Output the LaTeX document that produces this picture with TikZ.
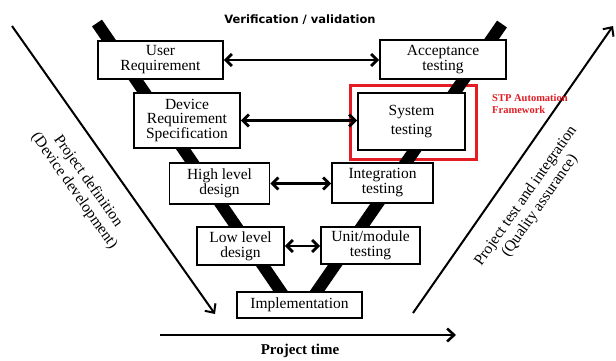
\documentclass[tikz,border=0pt]{standalone}
\usepackage{fontspec}
\setmainfont{Liberation Serif}
\newfontfamily\vfont{DejaVu Sans}
\usetikzlibrary{arrows.meta}
\definecolor{stpred}{RGB}{228,28,36}
\begin{document}
\begin{tikzpicture}[x=1pt,y=-1pt,
  box/.style={draw,line width=1.8pt,fill=white,inner sep=0pt,align=center,
    font=\fontsize{15.5}{15}\selectfont},
  dbl/.style={line width=2.8pt,{Straight Barb[length=6pt,width=12pt]}-{Straight Barb[length=6pt,width=12pt]}},
  longarr/.style={line width=2pt,-{Straight Barb[length=7pt,width=13pt]}},
  band/.style={line width=12pt},
  rottext/.style={align=center,font=\fontsize{15.5}{17}\selectfont}
]
\useasboundingbox (0,0) rectangle (616,360);

% red framework box
\node[draw=stpred,line width=3pt,minimum width=126pt,minimum height=74pt,inner sep=0pt] (fw) at (413,122) {};

% V bands
\coordinate (lb1) at (97,23);
\coordinate (lb2) at (290,305);
\coordinate (rb1) at (502,24);
\coordinate (rb2) at (307.5,305);
\draw[band] (lb1) -- (lb2);
\draw[band] (rb1) -- (rb2);

% boxes
\node[box,minimum width=125pt,minimum height=38pt] (ur) at (160.5,60) {User\\Requirement};
\node[box,minimum width=126pt,minimum height=39pt] (at) at (443,59.5) {Acceptance\\testing};
\node[box,minimum width=106pt,minimum height=55pt,font=\fontsize{15.5}{14.5}\selectfont] (drs) at (187,120.5) {Device\\Requirement\\Specification};
\node[box,minimum width=107pt,minimum height=57pt,font=\fontsize{15.5}{18.5}\selectfont] (st) at (411.5,121.5) {System\\testing};
\node[box,minimum width=100pt,minimum height=41pt] (hl) at (219.5,183.5) {High level\\design};
\node[box,minimum width=101pt,minimum height=40pt] (it) at (382.5,183) {Integration\\testing};
\node[box,minimum width=87pt,minimum height=38pt] (ll) at (240.5,246) {Low level\\design};
\node[box,minimum width=99pt,minimum height=37pt] (um) at (370.5,245.5) {Unit/module\\testing};
\node[box,minimum width=125pt,minimum height=26pt] (im) at (299.5,305) {Implementation};

% double arrows
\draw[dbl] (ur.east) -- (ur.east -| at.west);
\draw[dbl] (drs.east) -- (drs.east -| st.west);
\draw[dbl] (hl.east) -- (hl.east -| it.west);
\draw[dbl] (ll.east) -- (ll.east -| um.west);

% long arrows
\coordinate (la1) at (12,26);
\coordinate (la2) at (215,314);
\coordinate (ra1) at (413,313);
\coordinate (ra2) at (613,26);
\coordinate (ba1) at (160,335);
\coordinate (ba2) at (456,335);
\draw[longarr] (la1) -- (la2);
\draw[longarr] (ra1) -- (ra2);
\draw[longarr,line width=2.6pt] (ba1) -- (ba2);

% texts
\node[font=\vfont\bfseries\fontsize{11.5}{12}\selectfont] (vv) at (300,20) {Verification / validation};
\node[font=\bfseries\fontsize{15}{15}\selectfont] (ptime) at (300,351) {Project time};
\node[text=stpred,font=\bfseries\fontsize{10.5}{11.5}\selectfont,align=left,anchor=north west,inner sep=0pt] (stp) at (492,94.5) {STP Automation\\Framework};
\node[rottext,rotate=-54.8] (pd) at (81,186) {Project definition\\(Device development)};
\node[rottext,rotate=55] (pq) at (533,201) {Project test and integration\\(Quality assurance)};
\end{tikzpicture}
\end{document}
